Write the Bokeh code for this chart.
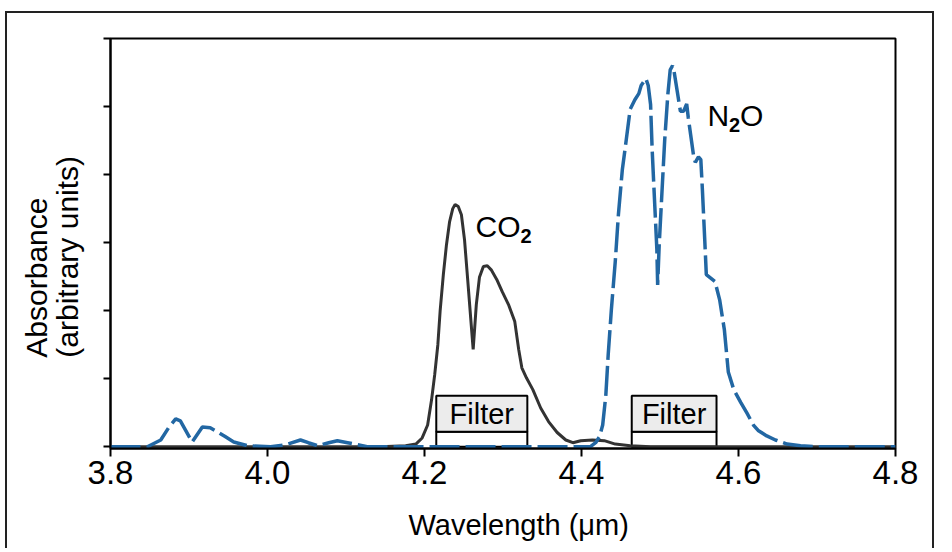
import math
from bokeh.plotting import figure
from bokeh.models import Range1d, FixedTicker, Label, CustomJSTickFormatter
from bokeh.embed import file_html
from bokeh.resources import INLINE

# ---- data ----
co2_wl = [3.800, 4.144, 4.176, 4.189, 4.197, 4.204, 4.209, 4.213, 4.217, 4.220, 4.224, 4.228,
          4.232, 4.236, 4.239, 4.243, 4.247, 4.251, 4.255, 4.259, 4.262, 4.266, 4.270, 4.275,
          4.280, 4.285, 4.292, 4.299, 4.307, 4.315, 4.320, 4.324, 4.330, 4.338, 4.348, 4.358,
          4.369, 4.380, 4.389, 4.399, 4.414, 4.429, 4.443, 4.462, 4.488, 4.800]
co2_abs = [0.00, 0.00, 0.015, 0.04, 0.13, 0.32, 0.69, 1.06, 1.50, 2.01, 2.53, 2.97,
           3.31, 3.50, 3.56, 3.53, 3.41, 3.04, 2.46, 1.87, 1.43, 2.09, 2.49, 2.65,
           2.66, 2.60, 2.46, 2.28, 2.09, 1.84, 1.43, 1.16, 1.01, 0.84, 0.57, 0.37,
           0.21, 0.10, 0.06, 0.09, 0.10, 0.09, 0.04, 0.015, 0.00, 0.00]

n2o_wl = [3.800, 3.847, 3.864, 3.874, 3.883, 3.889, 3.904, 3.917, 3.927, 3.936, 3.946, 3.957,
          3.975, 4.004, 4.023, 4.042, 4.052, 4.064, 4.078, 4.089, 4.102, 4.115, 4.127, 4.411,
          4.418, 4.423, 4.427, 4.431, 4.434, 4.438, 4.443, 4.447, 4.452, 4.457, 4.462, 4.468,
          4.473, 4.476, 4.482, 4.485, 4.488, 4.490, 4.493, 4.496, 4.497, 4.499, 4.502, 4.506,
          4.510, 4.513, 4.516, 4.518, 4.522, 4.526, 4.530, 4.534, 4.536, 4.539, 4.543, 4.545,
          4.549, 4.552, 4.554, 4.557, 4.559, 4.570, 4.576, 4.582, 4.587, 4.594, 4.603, 4.611,
          4.619, 4.625, 4.636, 4.647, 4.662, 4.679, 4.704, 4.800]
n2o_abs = [0.00, 0.00, 0.10, 0.28, 0.41, 0.38, 0.07, 0.29, 0.28, 0.22, 0.15, 0.07,
           0.015, 0.00, 0.03, 0.10, 0.06, 0.015, 0.06, 0.09, 0.06, 0.03, 0.00, 0.00,
           0.06, 0.15, 0.32, 0.76, 1.35, 2.01, 2.72, 3.41, 4.07, 4.51, 4.96, 5.10,
           5.19, 5.31, 5.41, 5.31, 5.03, 4.37, 3.63, 2.90, 2.38, 2.97, 3.63, 4.51,
           5.18, 5.54, 5.60, 5.51, 5.22, 4.93, 4.93, 5.04, 4.84, 4.59, 4.26, 4.18,
           4.26, 4.22, 3.78, 3.04, 2.53, 2.43, 2.16, 1.72, 1.10, 0.84, 0.65, 0.49,
           0.32, 0.24, 0.16, 0.10, 0.04, 0.015, 0.00, 0.00]

filter_lo = [4.215, 4.464]
filter_hi = [4.331, 4.572]
filter_text = ["Filter", "Filter"]

x_ticks = [3.8, 4.0, 4.2, 4.4, 4.6, 4.8]
x_tick_labels = ["3.8", "4.0", "4.2", "4.4", "4.6", "4.8"]
y_ticks = [0, 1, 2, 3, 4, 5, 6]

x_title = "Wavelength (\u03bcm)"
y_title_lines = ["Absorbance", "(arbitrary units)"]

# ---- styles ----
FONT = "Liberation Sans"
FS = "29px"
BLUE = "#2267a3"
DARK = "#333333"
FILTER_TOP = 0.75
FILTER_MID = 0.22
FRAME = "2px solid #222222"

p = figure(width=929, height=537, x_range=Range1d(3.8, 4.8), y_range=Range1d(-0.025, 6.0),
           output_backend="svg", toolbar_location=None,
           min_border_left=103, min_border_right=41, min_border_top=25, min_border_bottom=102)
p.styles = {"margin-left": "5px", "margin-top": "11px",
            "border-left": FRAME, "border-top": FRAME, "border-right": FRAME}
p.background_fill_color = "white"
p.border_fill_color = "white"
p.outline_line_color = "black"
p.outline_line_width = 2
p.xgrid.visible = False
p.ygrid.visible = False

xa = p.xaxis[0]
xa.ticker = FixedTicker(ticks=x_ticks)
xa.major_label_overrides = {t: l for t, l in zip(x_ticks, x_tick_labels)}
xa.major_tick_out = 8
xa.major_tick_in = 0
xa.minor_tick_line_color = None
xa.major_tick_line_width = 2
xa.axis_line_width = 2
xa.major_label_text_font = FONT
xa.major_label_text_font_size = "33px"
xa.major_label_text_color = "black"
xa.major_label_standoff = 4

ya = p.yaxis[0]
ya.ticker = FixedTicker(ticks=y_ticks)
ya.formatter = CustomJSTickFormatter(code="return ''")
ya.major_tick_out = 7
ya.major_tick_in = 0
ya.minor_tick_line_color = None
ya.major_tick_line_width = 2
ya.axis_line_width = 2
ya.major_label_standoff = 0
ya.major_label_text_font_size = "0px"

# axis titles (placed in the side panels so they are not clipped to the frame)
p.add_layout(Label(x=4.32, y=-1.15, text=x_title, text_align="center", text_baseline="middle",
                   text_font=FONT, text_font_size=FS, text_color="black"), "below")
for xv, line in zip([3.7058, 3.7455], y_title_lines):
    p.add_layout(Label(x=xv, y=1.31, text=line, angle=math.pi / 2, text_align="left",
                       text_baseline="middle", text_font=FONT, text_font_size="30px",
                       text_color="black"), "left")

# filter boxes
fmid = [(a + b) / 2 for a, b in zip(filter_lo, filter_hi)]
p.quad(left=filter_lo, right=filter_hi, bottom=[0, 0], top=[FILTER_MID] * 2,
       fill_color=None, line_color="black", line_width=2)
p.quad(left=filter_lo, right=filter_hi, bottom=[FILTER_MID] * 2, top=[FILTER_TOP] * 2,
       fill_color="#ececec", line_color="black", line_width=2)

# spectra
p.line(co2_wl, co2_abs, line_color=DARK, line_width=3)
p.line(n2o_wl, n2o_abs, line_color=BLUE, line_width=3.5, line_dash="30 6")

for xm, t in zip(fmid, filter_text):
    p.add_layout(Label(x=xm, y=(FILTER_MID + FILTER_TOP) / 2, text=t, text_align="center",
                       text_baseline="middle", text_font=FONT, text_font_size=FS, text_color="black"))

# species labels
SP = "30px"
SUB = "20px"
p.add_layout(Label(x=4.265, y=3.237, text="CO", text_baseline="middle", text_font=FONT,
                   text_font_size=SP, text_color="black"))
p.add_layout(Label(x=4.265, y=3.237, x_offset=45, y_offset=-9, text="2", text_baseline="middle",
                   text_font=FONT, text_font_size=SUB, text_font_style="bold", text_color="black"))
p.add_layout(Label(x=4.5605, y=4.868, text="N", text_baseline="middle", text_font=FONT,
                   text_font_size=SP, text_color="black"))
p.add_layout(Label(x=4.5605, y=4.868, x_offset=21.5, y_offset=-9, text="2", text_baseline="middle",
                   text_font=FONT, text_font_size=SUB, text_font_style="bold", text_color="black"))
p.add_layout(Label(x=4.5605, y=4.868, x_offset=32.5, text="O", text_baseline="middle",
                   text_font=FONT, text_font_size=SP, text_color="black"))

open("out.html", "w").write(file_html(p, INLINE))
